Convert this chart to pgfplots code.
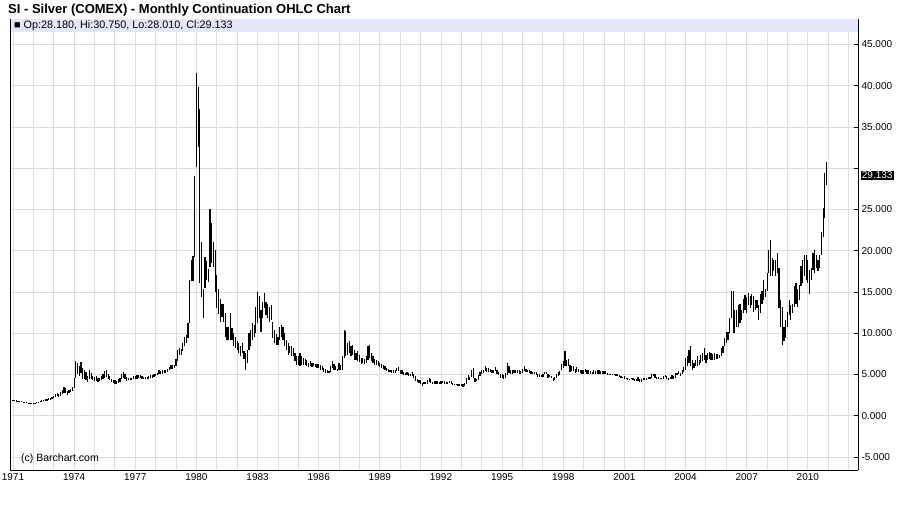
\documentclass[border=0pt]{standalone}
\usepackage{pgfplots}
\pgfplotsset{compat=1.18}
\usepackage{pgfplotstable}
\usepackage{fontspec}
\setmainfont{Liberation Sans}

\definecolor{gridgray}{RGB}{222,222,222}
\definecolor{bandcol}{RGB}{230,230,250}

% monthly low / high, Jan 1971 .. Dec 2010 (one line per year)
\pgfplotstableread[row sep=\\]{
lo hi\\
1.78 1.92\\ 1.75 1.90\\ 1.72 1.86\\ 1.70 1.84\\ 1.66 1.80\\ 1.62 1.76\\ 1.60 1.72\\ 1.56 1.70\\ 1.52 1.66\\ 1.48 1.60\\ 1.42 1.54\\ 1.40 1.52\\
1.42 1.56\\ 1.46 1.60\\ 1.50 1.66\\ 1.56 1.72\\ 1.62 1.80\\ 1.68 1.86\\ 1.74 1.92\\ 1.80 2.00\\ 1.84 2.06\\ 1.90 2.12\\ 1.96 2.20\\ 2.02 2.28\\
2.10 2.40\\ 2.25 2.60\\ 2.40 2.80\\ 2.30 2.65\\ 2.45 2.90\\ 2.60 3.10\\ 2.80 3.45\\ 2.70 3.30\\ 2.55 3.00\\ 2.70 3.10\\ 2.85 3.25\\ 3.00 3.45\\
3.30 4.60\\ 4.60 6.60\\ 5.00 6.40\\ 4.80 6.00\\ 5.20 6.50\\ 4.50 5.80\\ 4.40 5.50\\ 4.30 5.30\\ 4.10 4.80\\ 4.40 5.50\\ 4.50 5.20\\ 4.30 4.80\\
4.20 4.70\\ 4.20 4.80\\ 4.10 4.60\\ 4.20 4.60\\ 4.30 4.80\\ 4.50 5.10\\ 4.60 5.40\\ 4.70 5.50\\ 4.50 5.00\\ 4.30 4.80\\ 4.10 4.50\\ 4.00 4.30\\
3.90 4.30\\ 3.90 4.20\\ 4.00 4.40\\ 4.10 4.60\\ 4.40 5.00\\ 4.60 5.30\\ 4.40 5.00\\ 4.20 4.70\\ 4.30 4.60\\ 4.30 4.60\\ 4.30 4.60\\ 4.40 4.80\\
4.40 4.80\\ 4.50 4.90\\ 4.60 4.95\\ 4.60 4.95\\ 4.50 4.85\\ 4.40 4.70\\ 4.40 4.70\\ 4.40 4.70\\ 4.50 4.80\\ 4.60 4.90\\ 4.60 4.90\\ 4.70 5.00\\
4.80 5.10\\ 4.90 5.20\\ 5.00 5.50\\ 5.00 5.40\\ 5.10 5.50\\ 5.20 5.50\\ 5.20 5.60\\ 5.30 5.70\\ 5.50 5.90\\ 5.70 6.20\\ 5.70 6.10\\ 5.80 6.20\\
6.00 6.90\\ 6.60 8.00\\ 7.30 8.20\\ 7.30 8.10\\ 7.80 8.80\\ 8.40 9.50\\ 8.80 9.80\\ 9.40 11.20\\ 11.20 16.50\\ 16.30 18.90\\ 16.30 19.40\\ 19.30 29.00\\
30.10 41.50\\ 32.60 39.80\\ 16.10 37.20\\ 14.40 21.00\\ 11.90 15.30\\ 15.50 19.20\\ 16.40 18.80\\ 16.20 17.80\\ 18.00 25.00\\ 18.50 23.40\\ 18.00 21.10\\ 15.00 20.10\\
13.10 17.00\\ 12.30 15.30\\ 11.30 14.10\\ 12.00 13.60\\ 11.30 13.60\\ 9.60 12.50\\ 9.20 10.80\\ 9.20 10.80\\ 9.20 12.50\\ 9.20 10.60\\ 8.40 10.00\\ 8.20 9.60\\
8.00 9.00\\ 7.60 8.80\\ 7.20 8.40\\ 7.60 8.80\\ 6.90 7.90\\ 5.60 7.60\\ 6.40 8.00\\ 8.00 10.00\\ 8.40 10.40\\ 9.20 11.20\\ 9.60 11.00\\ 10.00 13.20\\
11.20 15.00\\ 11.80 14.50\\ 10.20 12.80\\ 11.80 13.80\\ 13.00 14.90\\ 12.20 13.80\\ 11.80 13.60\\ 11.40 13.20\\ 11.60 13.40\\ 9.40 11.40\\ 8.80 10.40\\ 8.60 9.90\\
8.60 9.60\\ 9.20 10.80\\ 9.60 11.00\\ 9.20 10.80\\ 8.40 10.00\\ 8.00 9.20\\ 7.40 8.80\\ 7.60 8.40\\ 7.20 8.40\\ 7.20 8.20\\ 6.60 7.60\\ 6.20 7.20\\
6.10 7.20\\ 6.00 7.60\\ 6.20 7.20\\ 6.10 7.00\\ 6.20 6.90\\ 6.00 6.70\\ 5.90 6.40\\ 6.00 6.60\\ 5.90 6.40\\ 6.00 6.40\\ 5.90 6.30\\ 5.80 6.30\\
5.80 6.30\\ 5.60 6.10\\ 5.50 6.00\\ 5.30 5.80\\ 5.20 5.70\\ 5.20 5.50\\ 5.20 5.40\\ 5.30 6.00\\ 5.80 6.60\\ 5.60 6.30\\ 5.50 6.00\\ 5.40 5.70\\
5.60 6.40\\ 5.60 6.20\\ 5.60 7.20\\ 7.00 10.40\\ 7.20 10.30\\ 7.40 8.80\\ 7.60 9.00\\ 7.20 8.40\\ 7.40 8.60\\ 6.80 8.00\\ 6.80 7.60\\ 6.60 7.80\\
6.50 7.40\\ 6.30 7.00\\ 6.40 7.00\\ 6.30 6.90\\ 6.40 7.20\\ 6.80 8.40\\ 7.00 8.60\\ 6.60 7.60\\ 6.40 7.20\\ 6.20 6.90\\ 6.10 6.80\\ 6.00 6.60\\
5.90 6.40\\ 5.80 6.30\\ 5.70 6.20\\ 5.60 6.00\\ 5.40 5.80\\ 5.30 5.70\\ 5.30 5.60\\ 5.20 5.60\\ 5.20 5.50\\ 5.20 5.60\\ 5.40 5.80\\ 5.40 5.90\\
5.10 5.60\\ 5.00 5.50\\ 4.90 5.30\\ 4.90 5.20\\ 4.90 5.30\\ 4.80 5.20\\ 4.80 5.10\\ 4.80 5.30\\ 4.60 5.00\\ 4.20 4.80\\ 4.10 4.40\\ 4.00 4.30\\
3.90 4.30\\ 3.60 4.00\\ 3.80 4.10\\ 3.90 4.10\\ 3.90 4.30\\ 4.10 4.60\\ 4.00 4.50\\ 3.80 4.10\\ 3.90 4.20\\ 3.90 4.20\\ 3.90 4.20\\ 3.80 4.10\\
3.90 4.20\\ 4.00 4.20\\ 3.90 4.20\\ 3.90 4.10\\ 3.90 4.10\\ 4.00 4.20\\ 3.90 4.20\\ 3.70 4.00\\ 3.70 3.90\\ 3.70 3.90\\ 3.60 3.90\\ 3.60 3.80\\
3.60 3.80\\ 3.50 3.80\\ 3.60 4.00\\ 3.80 4.60\\ 4.30 4.90\\ 4.30 4.70\\ 4.70 5.50\\ 4.60 5.80\\ 4.10 4.60\\ 4.20 4.50\\ 4.30 4.90\\ 4.80 5.30\\
5.10 5.50\\ 5.20 5.60\\ 5.40 6.00\\ 5.30 5.80\\ 5.30 5.80\\ 5.30 5.70\\ 5.20 5.60\\ 5.20 5.50\\ 5.40 5.90\\ 5.10 5.50\\ 4.90 5.30\\ 4.60 5.00\\
4.60 5.00\\ 4.50 4.90\\ 4.60 5.20\\ 4.90 6.40\\ 5.20 6.00\\ 5.10 5.60\\ 5.00 5.50\\ 5.20 5.60\\ 5.20 5.60\\ 5.20 5.50\\ 5.10 5.50\\ 5.10 5.40\\
5.20 5.70\\ 5.40 6.00\\ 5.30 5.70\\ 5.30 5.60\\ 5.20 5.50\\ 5.00 5.40\\ 5.00 5.30\\ 5.10 5.30\\ 4.90 5.30\\ 4.70 5.00\\ 4.70 5.00\\ 4.70 4.90\\
4.70 5.00\\ 5.00 5.30\\ 5.00 5.30\\ 4.60 5.00\\ 4.70 4.90\\ 4.60 4.80\\ 4.20 4.60\\ 4.30 4.70\\ 4.60 5.00\\ 4.80 5.30\\ 4.90 5.40\\ 5.50 6.30\\
5.80 6.60\\ 6.00 7.80\\ 6.00 6.80\\ 6.00 6.90\\ 5.30 6.20\\ 5.40 6.00\\ 5.40 6.00\\ 5.20 5.70\\ 5.30 5.90\\ 5.30 5.70\\ 5.20 5.60\\ 5.10 5.50\\
5.10 5.60\\ 5.30 5.70\\ 5.10 5.50\\ 5.00 5.50\\ 5.00 5.40\\ 5.10 5.30\\ 5.10 5.50\\ 5.00 5.40\\ 5.10 5.60\\ 5.10 5.60\\ 5.10 5.40\\ 5.10 5.40\\
5.00 5.40\\ 5.00 5.40\\ 4.90 5.20\\ 4.90 5.10\\ 4.90 5.10\\ 4.90 5.10\\ 4.90 5.10\\ 4.80 5.00\\ 4.80 5.00\\ 4.70 4.90\\ 4.60 4.80\\ 4.60 4.70\\
4.50 4.80\\ 4.40 4.60\\ 4.30 4.60\\ 4.30 4.50\\ 4.40 4.60\\ 4.30 4.60\\ 4.20 4.50\\ 4.20 4.50\\ 4.20 4.70\\ 4.10 4.50\\ 4.10 4.40\\ 4.30 4.60\\
4.30 4.60\\ 4.30 4.60\\ 4.40 4.70\\ 4.50 4.70\\ 4.60 5.00\\ 4.80 5.10\\ 4.60 5.00\\ 4.40 4.70\\ 4.40 4.70\\ 4.40 4.60\\ 4.40 4.60\\ 4.50 4.80\\
4.70 4.90\\ 4.40 4.80\\ 4.30 4.60\\ 4.50 4.70\\ 4.50 4.90\\ 4.50 4.80\\ 4.60 5.20\\ 4.90 5.20\\ 5.00 5.40\\ 4.80 5.20\\ 5.00 5.50\\ 5.30 5.90\\
5.60 7.00\\ 6.00 7.20\\ 6.40 8.00\\ 6.00 8.40\\ 5.60 6.80\\ 5.80 6.40\\ 6.00 6.80\\ 6.00 7.20\\ 6.20 6.80\\ 6.40 7.40\\ 6.60 7.60\\ 6.80 8.20\\
6.40 7.40\\ 6.80 7.60\\ 6.90 7.70\\ 6.80 7.60\\ 6.80 7.50\\ 6.80 7.60\\ 6.90 7.50\\ 6.90 7.50\\ 7.00 7.40\\ 7.20 8.20\\ 7.60 8.40\\ 8.40 9.40\\
8.80 10.20\\ 9.20 10.20\\ 10.00 11.80\\ 11.80 15.10\\ 10.00 15.10\\ 10.00 12.80\\ 10.80 12.80\\ 10.80 13.40\\ 11.20 13.60\\ 11.60 12.80\\ 12.40 14.20\\ 12.80 14.60\\
12.40 14.40\\ 13.40 14.90\\ 13.00 14.50\\ 13.40 14.70\\ 12.60 14.50\\ 12.80 14.00\\ 13.00 14.00\\ 11.60 13.40\\ 12.40 14.70\\ 13.60 15.10\\ 14.00 16.50\\ 14.40 15.30\\
15.10 17.30\\ 17.30 20.10\\ 16.90 21.30\\ 16.90 19.10\\ 17.50 18.90\\ 16.90 18.90\\ 17.30 19.70\\ 13.00 17.90\\ 10.80 14.00\\ 8.60 13.20\\ 9.00 10.80\\ 9.40 11.60\\
10.80 12.60\\ 12.20 14.00\\ 11.60 13.40\\ 12.40 13.60\\ 13.20 15.70\\ 13.60 16.10\\ 13.20 15.30\\ 14.00 15.90\\ 15.70 18.10\\ 16.10 18.90\\ 16.90 19.50\\ 16.50 19.50\\
16.10 18.90\\ 14.70 17.70\\ 16.50 17.90\\ 17.70 19.70\\ 17.30 20.10\\ 17.90 19.50\\ 17.50 18.90\\ 17.90 19.50\\ 19.50 22.30\\ 21.70 25.20\\ 24.00 29.40\\ 28.01 30.75\\
}\silver

\begin{document}
\begin{tikzpicture}
\path[use as bounding box] (0pt,0pt) rectangle (900pt,511pt);
\begin{axis}[
    at={(10pt,41pt)}, anchor=south west,
    scale only axis,
    width=848pt, height=450.5pt,
    xmin=1970.853, xmax=2012.46,
    ymin=-6.58, ymax=48.03,
    clip=false,
    axis x line*=bottom,
    axis y line*=right,
    axis line style={black, line width=0.8pt},
    xtick={1971,1974,...,2010},
    minor xtick={1971,...,2012},
    ytick={-5,0,...,45},
    yticklabels={-5.000,0.000,5.000,10.000,15.000,20.000,25.000,,35.000,40.000,45.000},
    xticklabel style={/pgf/number format/1000 sep=},
    grid=both,
    major grid style={gridgray, line width=0.8pt},
    minor grid style={gridgray, line width=0.8pt},
    xtick style={draw=none},
    minor tick length=0pt,
    ytick style={black, line width=0.7pt},
    tick align=inside,
    major tick length=4pt,
    tick label style={font=\fontsize{10}{12}\selectfont},
    /pgf/number format/assume math mode=true,
]
\addplot[draw=none, no markers, forget plot,
    error bars/.cd, y dir=plus, y explicit, error mark=none,
    error bar style={draw=black, line width=1.2pt}]
  table[x expr=1971+\coordindex/12, y=lo, y error expr=\thisrow{hi}-\thisrow{lo}] {\silver};

\fill[bandcol] (rel axis cs:0,1) rectangle ([yshift=-13pt]rel axis cs:1,1);
\draw[black, line width=0.8pt] (rel axis cs:0,0) -- (rel axis cs:0,1);
\node[anchor=west, inner sep=0pt, font=\fontsize{10.8}{12}\selectfont]
  at ([xshift=4pt, yshift=-6.5pt]rel axis cs:0,1) {■ Op:28.180, Hi:30.750, Lo:28.010, Cl:29.133};
\node[fill=black, text=white, anchor=west, inner sep=1.2pt, font=\fontsize{10}{12}\selectfont]
  at ([xshift=2.5pt]axis cs:2012.46,29.133) {29.133};
\end{axis}
\node[anchor=base west, inner sep=0pt, font=\bfseries\fontsize{13}{15}\selectfont]
  at (8pt,497pt) {SI - Silver (COMEX) - Monthly Continuation OHLC Chart};
\node[anchor=base west, inner sep=0pt, font=\fontsize{10.5}{12}\selectfont]
  at (21pt,49pt) {(c) Barchart.com};
\end{tikzpicture}
\end{document}
